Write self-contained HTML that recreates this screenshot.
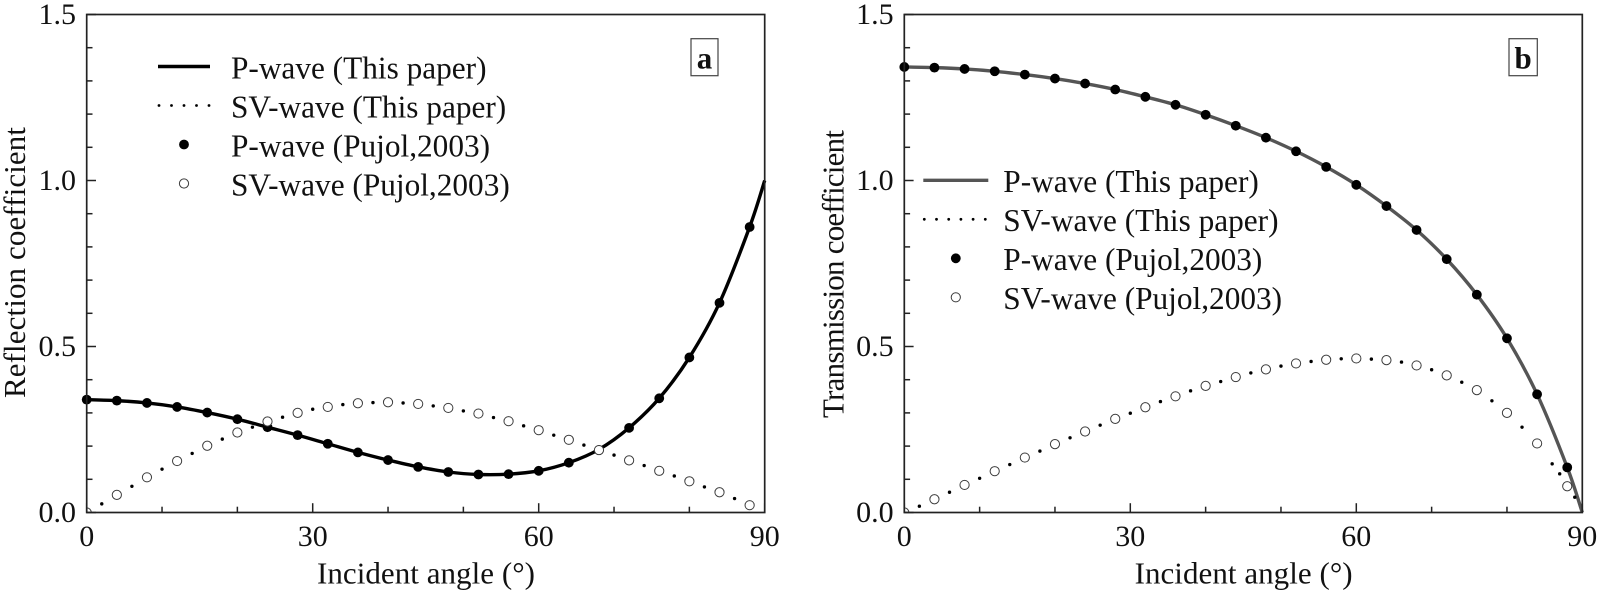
<!DOCTYPE html>
<html lang="en">
<head>
<meta charset="utf-8">
<title>Reflection and transmission coefficients</title>
<style>
html,body{margin:0;padding:0;background:#fff;}
#figure{display:block;width:1600px;height:593px;}
text{font-family:"Liberation Serif",serif;fill:#111;}
</style>
</head>
<body>
<svg id="figure" xmlns="http://www.w3.org/2000/svg" width="1600" height="593" viewBox="0 0 1600 593"></svg>
<script>
// Shared axis data
const xMajorTicks = [0, 30, 60, 90];
const xMinorTicks = [10, 20, 40, 50, 70, 80];
const yMajorTicks = [0, 0.5, 1.0, 1.5];
const yMinorTicks = [0.1, 0.2, 0.3, 0.4, 0.6, 0.7, 0.8, 0.9, 1.1, 1.2, 1.3, 1.4];
const yTickLabels = ["0.0", "0.5", "1.0", "1.5"];
const xTickLabels = ["0", "30", "60", "90"];
const legendLabels = ["P-wave (This paper)", "SV-wave (This paper)", "P-wave (Pujol,2003)", "SV-wave (Pujol,2003)"];

// Shared sample angles
const markerAngles = [0, 4, 8, 12, 16, 20, 24, 28, 32, 36, 40, 44, 48, 52, 56, 60, 64, 68, 72, 76, 80, 84, 88];
const lineAngles = [0, 4, 8, 12, 16, 20, 24, 28, 32, 36, 40, 44, 48, 52, 56, 60, 64, 68, 72, 76, 80, 84, 88, 90];

// Panel a: reflection
const reflPLine = [0.340, 0.337, 0.330, 0.318, 0.301, 0.281, 0.257, 0.233, 0.207, 0.181, 0.158, 0.1375, 0.122, 0.1145, 0.1155, 0.1255, 0.150, 0.190, 0.255, 0.344, 0.467, 0.6315, 0.860, 1.000];
const reflPMarkers = [0.340, 0.337, 0.330, 0.318, 0.301, 0.281, 0.257, 0.233, 0.207, 0.181, 0.158, 0.1375, 0.122, 0.1145, 0.1155, 0.1255, 0.150, 0.188, 0.255, 0.344, 0.467, 0.6315, 0.860];
const reflSvMarkers = [0.000, 0.053, 0.106, 0.155, 0.201, 0.241, 0.274, 0.300, 0.318, 0.329, 0.332, 0.327, 0.315, 0.298, 0.275, 0.248, 0.219, 0.188, 0.157, 0.1255, 0.094, 0.061, 0.022];
const reflSvDotAngles = [2, 6, 10, 14, 18, 22, 26, 30, 34, 38, 42, 46, 50, 54, 58, 62, 66, 70, 74, 78, 82, 86];
const reflSvDots = [0.026, 0.079, 0.1305, 0.178, 0.221, 0.257, 0.287, 0.311, 0.325, 0.331, 0.330, 0.321, 0.306, 0.286, 0.261, 0.233, 0.203, 0.173, 0.1415, 0.110, 0.077, 0.042];

// Panel b: transmission
const transPLine = [1.342, 1.340, 1.336, 1.329, 1.319, 1.307, 1.292, 1.274, 1.252, 1.228, 1.198, 1.165, 1.129, 1.088, 1.041, 0.987, 0.923, 0.851, 0.763, 0.656, 0.5247, 0.356, 0.136, 0.000];
const transPMarkers = [1.342, 1.340, 1.336, 1.329, 1.319, 1.307, 1.292, 1.274, 1.252, 1.228, 1.198, 1.165, 1.129, 1.088, 1.041, 0.987, 0.923, 0.851, 0.763, 0.656, 0.5247, 0.356, 0.136];
const transSvMarkers = [0.000, 0.040, 0.083, 0.1245, 0.1655, 0.206, 0.244, 0.282, 0.317, 0.350, 0.3815, 0.408, 0.431, 0.449, 0.460, 0.464, 0.459, 0.443, 0.413, 0.3685, 0.300, 0.208, 0.079];
const transSvDotAngles = [2, 6, 10, 14, 18, 22, 26, 30, 34, 38, 42, 46, 50, 54, 58, 62, 66, 70, 74, 78, 82, 86, 87, 89];
const transSvDots = [0.019, 0.061, 0.103, 0.1445, 0.185, 0.225, 0.263, 0.299, 0.334, 0.3665, 0.3945, 0.4205, 0.441, 0.455, 0.463, 0.462, 0.453, 0.430, 0.3925, 0.3365, 0.257, 0.1466, 0.1165, 0.046];

const NS = 'http://www.w3.org/2000/svg';
const figure = document.getElementById('figure');

function make(parent, tag, attrs, txt) {
  const el = document.createElementNS(NS, tag);
  for (const k in attrs) el.setAttribute(k, attrs[k]);
  if (txt !== undefined) el.textContent = txt;
  parent.appendChild(el);
  return el;
}

function smoothPath(px, py) {
  let d = 'M' + px[0].toFixed(2) + ' ' + py[0].toFixed(2);
  for (let i = 0; i < px.length - 1; i++) {
    const a = Math.max(i - 1, 0), b = Math.min(i + 2, px.length - 1);
    const c1x = px[i] + (px[i + 1] - px[a]) / 6, c1y = py[i] + (py[i + 1] - py[a]) / 6;
    const c2x = px[i + 1] - (px[b] - px[i]) / 6, c2y = py[i + 1] - (py[b] - py[i]) / 6;
    d += 'C' + c1x.toFixed(2) + ' ' + c1y.toFixed(2) + ' ' + c2x.toFixed(2) + ' ' + c2y.toFixed(2) + ' ' + px[i + 1].toFixed(2) + ' ' + py[i + 1].toFixed(2);
  }
  return d;
}

function drawPanel(p) {
  const left = p.left, right = p.left + 678, top = 14.5, bottom = 512.5;
  const xScale = v => left + v / 90 * (right - left);
  const yScale = v => bottom - v / 1.5 * (bottom - top);

  const panel = make(figure, 'g', {});
  
  

  const clip = make(panel, 'clipPath', { id: 'plot-clip-' + p.id });
  make(clip, 'rect', { x: left, y: top, width: right - left, height: bottom - top });

  // P-wave line
  const line = make(panel, 'path', {
    d: smoothPath(lineAngles.map(xScale), p.pLine.map(yScale)),
    fill: 'none', stroke: p.lineColor, 'stroke-width': 3.4, 'stroke-linejoin': 'round'
  });
  
  

  // SV-wave dotted line
  p.svDotAngles.forEach((a, i) => {
    const dot = make(panel, 'circle', { cx: xScale(a), cy: yScale(p.svDots[i]), r: 1.7, fill: '#000' });
    
    
  });

  // Filled markers
  markerAngles.forEach((a, i) => {
    const m = make(panel, 'circle', { cx: xScale(a), cy: yScale(p.pMarkers[i]), r: 4.9, fill: '#000' });
    
    
  });

  // Open markers
  const openGroup = make(panel, 'g', { 'clip-path': 'url(#plot-clip-' + p.id + ')' });
  
  
  markerAngles.forEach((a, i) => {
    const m = make(openGroup, 'circle', { cx: xScale(a), cy: yScale(p.svMarkers[i]), r: 4.6, fill: '#fff', stroke: '#3c3c3c', 'stroke-width': 1 });
    
    
  });

  // Frame
  const frame = make(panel, 'rect', { x: left, y: top, width: right - left, height: bottom - top, fill: 'none', stroke: '#222', 'stroke-width': 1.7 });
  
  

  // X ticks
  xMajorTicks.forEach((v, i) => {
    const t = make(panel, 'line', { x1: xScale(v), x2: xScale(v), y1: bottom, y2: bottom - 9.3, stroke: '#222', 'stroke-width': 1.5 });
    
    
    const l = make(panel, 'text', { x: xScale(v), y: 546, 'text-anchor': 'middle', 'font-size': 30 }, xTickLabels[i]);
    
    
  });
  xMinorTicks.forEach(v => {
    const t = make(panel, 'line', { x1: xScale(v), x2: xScale(v), y1: bottom, y2: bottom - 5.8, stroke: '#222', 'stroke-width': 1.5 });
    
    
  });

  // Y ticks
  yMajorTicks.forEach((v, i) => {
    const t = make(panel, 'line', { x1: left, x2: left + 9.3, y1: yScale(v), y2: yScale(v), stroke: '#222', 'stroke-width': 1.5 });
    
    
    const l = make(panel, 'text', { x: left - 10.7, y: yScale(v) + 9.5, 'text-anchor': 'end', 'font-size': 30 }, yTickLabels[i]);
    
    
  });
  yMinorTicks.forEach(v => {
    const t = make(panel, 'line', { x1: left, x2: left + 5.8, y1: yScale(v), y2: yScale(v), stroke: '#222', 'stroke-width': 1.5 });
    
    
  });

  // Axis titles
  const xTitle = make(panel, 'text', { x: left + 230.3, y: 583.3, 'font-size': 31, textLength: 218, lengthAdjust: 'spacing' }, 'Incident angle (°)');
  
  
  const yTitle = make(panel, 'text', { transform: 'translate(' + p.yTitleX + ' ' + p.yTitleBottom + ') rotate(-90)', 'font-size': 31, textLength: p.yTitleLen, lengthAdjust: 'spacing' }, p.yTitle);
  
  

  // Panel tag
  const tagBox = make(panel, 'rect', { x: p.tagX, y: 38.7, width: p.tagW, height: 37, fill: '#fff', stroke: '#444', 'stroke-width': 1.2 });
  
  
  const tagText = make(panel, 'text', { x: p.tagX + p.tagW / 2, y: 68.3, 'text-anchor': 'middle', 'font-size': 31, 'font-weight': 'bold' }, p.id);
  
  

  // Legend
  const legend = make(panel, 'g', {});
  
  
  const ly = i => p.legendY + i * 39;
  const sample = make(legend, 'line', { x1: p.legendX0, x2: p.legendX1, y1: ly(0), y2: ly(0), stroke: p.lineColor, 'stroke-width': 3.4 });
  
  
  for (let k = 0; k < p.legendDots; k++) {
    const d = make(legend, 'circle', { cx: p.legendX0 + 1 + k * p.legendDotGap, cy: ly(1), r: 1.4, fill: '#000' });
    
    
  }
  const midX = (p.legendX0 + p.legendX1) / 2;
  const fm = make(legend, 'circle', { cx: midX, cy: ly(2), r: 4.9, fill: '#000' });
  
  
  const om = make(legend, 'circle', { cx: midX, cy: ly(3), r: 4.6, fill: '#fff', stroke: '#3c3c3c', 'stroke-width': 1 });
  
  
  legendLabels.forEach((s, i) => {
    const t = make(legend, 'text', { x: p.legendTextX, y: ly(i) + 11.8, 'font-size': 31.3 }, s);
    
    
  });
}

drawPanel({
  id: 'a', left: 86.7, lineColor: '#000',
  pLine: reflPLine, pMarkers: reflPMarkers, svMarkers: reflSvMarkers,
  svDotAngles: reflSvDotAngles, svDots: reflSvDots,
  yTitle: 'Reflection coefficient', yTitleX: 25, yTitleBottom: 398, yTitleLen: 271,
  tagX: 691, tagW: 27,
  legendY: 66.5, legendX0: 158, legendX1: 210, legendDots: 5, legendDotGap: 12.5, legendTextX: 231
});

drawPanel({
  id: 'b', left: 904.3, lineColor: '#555',
  pLine: transPLine, pMarkers: transPMarkers, svMarkers: transSvMarkers,
  svDotAngles: transSvDotAngles, svDots: transSvDots,
  yTitle: 'Transmission coefficient', yTitleX: 843.3, yTitleBottom: 418, yTitleLen: 288,
  tagX: 1509, tagW: 28.3,
  legendY: 180.3, legendX0: 923.3, legendX1: 988.3, legendDots: 6, legendDotGap: 12.2, legendTextX: 1003.3
});
</script>
</body>
</html>
